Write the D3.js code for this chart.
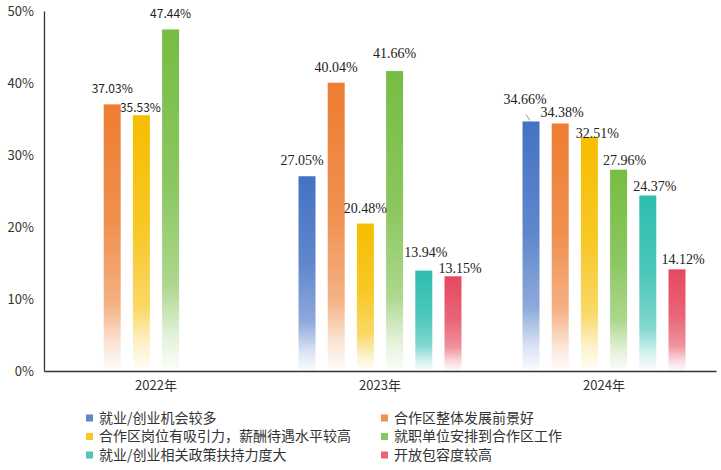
<!DOCTYPE html>
<html>
<head>
<meta charset="utf-8">
<script src="https://cdn.jsdelivr.net/npm/d3@7"></script>
<style>
  html, body { margin: 0; padding: 0; background: #fff; }
  svg { display: block; }
</style>
</head>
<body>
<svg id="chart" width="721" height="470"></svg>
<script>
// ---- data ----
const years = ["2022年", "2023年", "2024年"];
const seriesNames = [
  "就业/创业机会较多",
  "合作区整体发展前景好",
  "合作区岗位有吸引力，薪酬待遇水平较高",
  "就职单位安排到合作区工作",
  "就业/创业相关政策扶持力度大",
  "开放包容度较高"
];
const s1 = [null, 27.05, 34.66];
const s2 = [37.03, 40.04, 34.38];
const s3 = [35.53, 20.48, 32.51];
const s4 = [47.44, 41.66, 27.96];
const s5 = [null, 13.94, 24.37];
const s6 = [null, 13.15, 14.12];
const seriesValues = [s1, s2, s3, s4, s5, s6];
const yTicks = [0, 10, 20, 30, 40, 50];

// ---- styles ----
const colors = ["#4472C4", "#ED7D31", "#F6BE00", "#76BD43", "#2DBDAE", "#E5495F"];
// label nudges (dx, dy in px) relative to default placement above bar
const labelNudge = {
  "0-1": [0, 0], "0-2": [-1, 8], "0-3": [0, 0],
  "1-0": [-5, 0], "1-1": [0, 0], "1-2": [0, 0], "1-3": [0, -2], "1-4": [2, -3], "1-5": [7, 8],
  "2-0": [-6, -6], "2-1": [2, 5], "2-2": [8, 12], "2-3": [6, 6], "2-4": [7, 6], "2-5": [6, 6]
};

(function () {
const svg = d3.select("#chart");
const mLeft = 44, mRight = 716, mTop = 11, mBottom = 371;

const x0 = d3.scaleBand().domain(years).range([mLeft, mRight]).paddingInner(0).paddingOuter(0);
const x1 = d3.scaleBand().domain(d3.range(seriesNames.length))
  .range([0, x0.bandwidth()]).paddingInner(0.418).paddingOuter(1.045);
const y = d3.scaleLinear().domain([0, 50]).range([mBottom, mTop]);

// gradients
const defs = svg.append("defs");
colors.forEach((c, i) => {
  const g = defs.append("linearGradient").attr("id", "grad" + i)
    .attr("x1", 0).attr("y1", 0).attr("x2", 0).attr("y2", 1);
  g.append("stop").attr("offset", "0%").attr("stop-color", c).attr("stop-opacity", 1);
  g.append("stop").attr("offset", "45%").attr("stop-color", c).attr("stop-opacity", 0.85);
  g.append("stop").attr("offset", "75%").attr("stop-color", c).attr("stop-opacity", 0.6);
  g.append("stop").attr("offset", "90%").attr("stop-color", c).attr("stop-opacity", 0.2);
  g.append("stop").attr("offset", "100%").attr("stop-color", c).attr("stop-opacity", 0.02);
});

// bars
const cells = [];
years.forEach((yr, yi) => {
  seriesValues.forEach((arr, si) => {
    if (arr[yi] != null) cells.push({ yr, yi, si, v: arr[yi] });
  });
});

svg.append("g").selectAll("rect").data(cells).join("rect")
  .attr("x", d => x0(d.yr) + x1(d.si))
  .attr("y", d => y(d.v))
  .attr("width", x1.bandwidth())
  .attr("height", d => y(0) - y(d.v))
  .attr("fill", d => "url(#grad" + d.si + ")");

// value labels
svg.append("g").selectAll("text").data(cells).join("text")
  .attr("x", d => x0(d.yr) + x1(d.si) + x1.bandwidth() / 2 + (labelNudge[d.yi + "-" + d.si] || [0, 0])[0])
  .attr("y", d => y(d.v) - 11 + (labelNudge[d.yi + "-" + d.si] || [0, 0])[1])
  .attr("text-anchor", "middle")
  .attr("font-family", d => d.yi === 0 ? "'Noto Sans CJK SC', 'Noto Sans', sans-serif" : "'Liberation Serif', 'DejaVu Serif', serif")
  .attr("font-size", d => d.yi === 0 ? 12 : 14)
  .attr("fill", "#222")
  .text(d => d.v.toFixed(2) + "%");

// leader line for 2024 blue label
{
  const d = cells.find(c => c.yi === 2 && c.si === 0);
  const cx = x0(d.yr) + x1(d.si) + x1.bandwidth() / 2;
  svg.append("line")
    .attr("x1", cx - 5).attr("y1", y(d.v) - 7)
    .attr("x2", cx - 1).attr("y2", y(d.v) - 1)
    .attr("stroke", "#999").attr("stroke-width", 1);
}

// y axis
const yAxis = d3.axisLeft(y).tickValues(yTicks).tickFormat(d => d + "%").tickSize(0).tickPadding(10);
const gy = svg.append("g").attr("transform", `translate(${mLeft},0)`).call(yAxis);
gy.select(".domain").attr("stroke", "#333").attr("stroke-width", 1.3);
gy.selectAll("text").attr("font-family", "'Noto Sans CJK SC', 'Noto Sans', sans-serif")
  .attr("font-size", 13).attr("fill", "#333");

// x axis
const xAxis = d3.axisBottom(x0).tickSize(0).tickPadding(10);
const gx = svg.append("g").attr("transform", `translate(0,${mBottom})`).call(xAxis);
gx.select(".domain").attr("stroke", "#333").attr("stroke-width", 1.3);
gx.selectAll("text").attr("font-family", "'Noto Sans CJK SC', 'Noto Sans', sans-serif")
  .attr("font-size", 13).attr("fill", "#333");

// legend
const legendCols = [86, 381];
const legendRows = [418, 436.5, 455];
const lg = svg.append("g").selectAll("g").data(seriesNames).join("g")
  .attr("transform", (d, i) => `translate(${legendCols[i % 2]},${legendRows[Math.floor(i / 2)]})`);
lg.append("rect").attr("x", 0).attr("y", -3.5).attr("width", 7).attr("height", 7)
  .attr("fill", (d, i) => colors[i]).attr("opacity", 0.85);
lg.append("text").attr("x", 13).attr("y", 0).attr("dy", "0.35em")
  .attr("font-family", "'Noto Sans CJK SC', sans-serif").attr("font-size", 14).attr("fill", "#333")
  .text(d => d);
})();
</script>
</body>
</html>
